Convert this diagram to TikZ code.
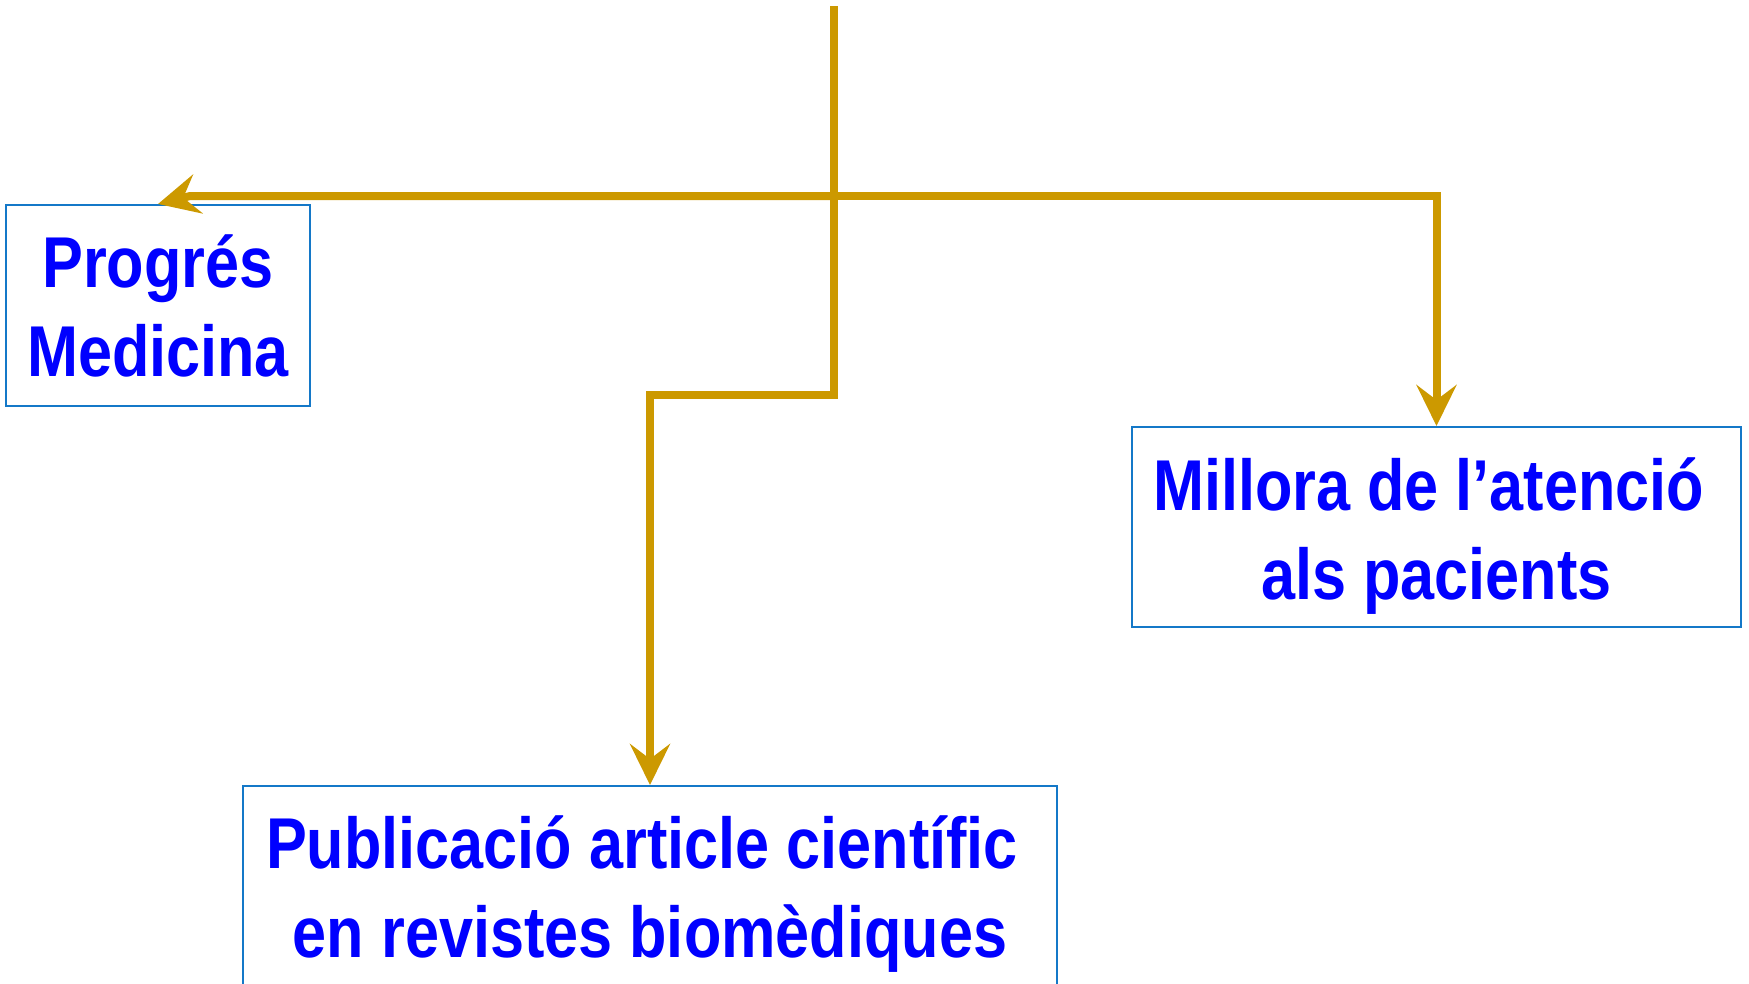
\documentclass[tikz,border=0pt]{standalone}
\usepackage{fontspec}
\newfontfamily\lbl{Liberation Sans}[FakeStretch=0.85]
\usetikzlibrary{arrows.meta}
\definecolor{gold}{RGB}{204,153,0}
\definecolor{boxline}{RGB}{20,120,200}
\definecolor{txtblue}{RGB}{0,0,255}
\begin{document}
\begin{tikzpicture}[x=1pt,y=-1pt,
  box/.style={draw=boxline,line width=2pt,fill=white,inner sep=0pt},
  txt/.style={inner sep=0pt,align=center,text=txtblue,
    font=\lbl\bfseries\fontsize{72}{89}\selectfont},
  conn/.style={draw=gold,line width=8pt},
  tip/.style={-{Stealth[length=41pt,width=40pt,inset=15pt]}}]
\useasboundingbox (0,0) rectangle (1749,983);
\node[box,minimum width=304pt,minimum height=201pt,
  label={[txt]center:Progrés\\Medicina}] (b1) at (158,305.5) {};
\node[box,minimum width=609pt,minimum height=200pt,
  label={[txt,yshift=-9pt]center:Millora de l’atenció\kern16pt\\als pacients}] (b2) at (1436.5,527) {};
\node[box,minimum width=814pt,minimum height=200pt,
  label={[txt,yshift=-8pt]center:Publicació article científic\kern16pt\\en revistes biomèdiques}] (b3) at (650,886) {};
\coordinate (top) at (834,6);
\coordinate (hub) at (834,196);
\coordinate (bend) at (834,395);
\coordinate (lk) at (190,196);
\draw[conn,tip] (top) -- (bend) -| (b3.north);
\draw[conn,tip] (hub) -| (b2.north);
\draw[conn,tip] (hub) -- (lk) -- (b1.north);
\end{tikzpicture}
\end{document}
